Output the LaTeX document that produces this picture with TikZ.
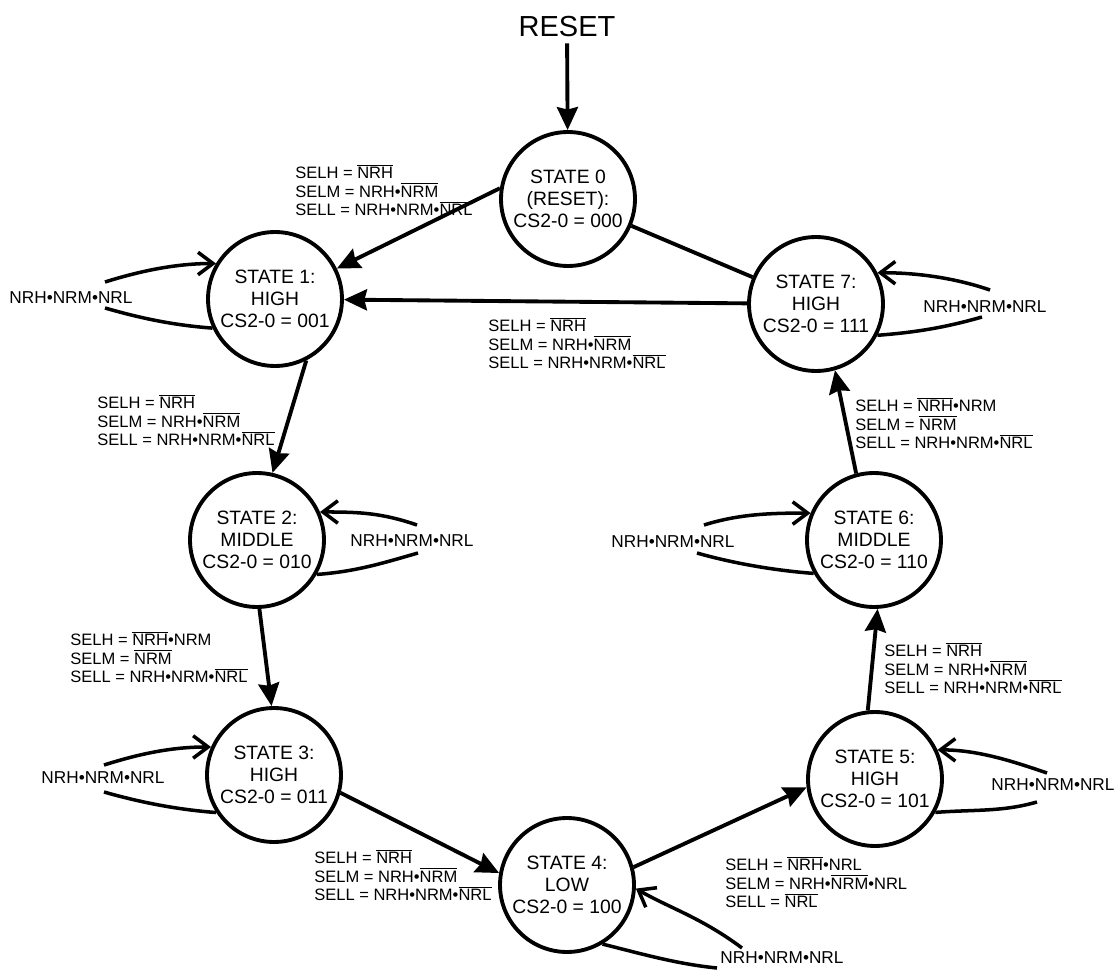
\documentclass[tikz,border=0pt]{standalone}
\usepackage{fontspec}
\setmainfont{Liberation Sans}
\usepackage{tikz}
\usetikzlibrary{arrows.meta}
\newcommand{\statefont}{\fontsize{11}{12.4}\selectfont}
\newcommand{\eqnfont}{\fontsize{9.4}{10.6}\selectfont}
\newcommand{\condfont}{\fontsize{9.8}{11}\selectfont}
\newcommand{\nbar}[1]{$\overline{\hbox{#1}}$}
\newcommand{\anddot}{\textbullet}
\tikzset{
  statebox/.style={circle, draw, line width=2.2pt, minimum size=2.68cm,
    inner sep=0pt, align=center, font=\statefont},
  flow/.style={-{Stealth[length=0.46cm, width=0.42cm, inset=0.05cm]}, line width=2.2pt},
  link/.style={line width=2.2pt},
  loopflow/.style={-{Straight Barb[length=0.3cm, width=0.45cm]}, line width=2pt},
  loopline/.style={line width=2pt},
  eqn/.style={align=left, inner sep=0pt, anchor=west, font=\eqnfont},
  cond/.style={inner sep=0pt, font=\condfont},
}

\begin{document}
\begin{tikzpicture}[x=0.02cm, y=-0.02cm]
  \useasboundingbox (0,0) rectangle (1117,970);

  % states
  \node[font=\fontsize{16.5}{18}\selectfont] (reset) at (567,27) {RESET};
  \node[statebox] (s0) at (568,199) {STATE 0\\(RESET):\\CS2-0 = 000};
  \node[statebox] (s1) at (275,299) {STATE 1:\\HIGH\\CS2-0 = 001};
  \node[statebox] (s2) at (257,540) {STATE 2:\\MIDDLE\\CS2-0 = 010};
  \node[statebox] (s3) at (274,775) {STATE 3:\\HIGH\\CS2-0 = 011};
  \node[statebox] (s4) at (567,885) {STATE 4:\\LOW\\CS2-0 = 100};
  \node[statebox] (s5) at (875,779) {STATE 5:\\HIGH\\CS2-0 = 101};
  \node[statebox] (s6) at (874,540) {STATE 6:\\MIDDLE\\CS2-0 = 110};
  \node[statebox] (s7) at (816,304) {STATE 7:\\HIGH\\CS2-0 = 111};

  % transitions
  \draw[flow] (reset) -- (s0);
  \draw[flow] (s0.171) -- (s1);
  \draw[link] (s0) -- (s7);
  \draw[flow] (s7) -- (s1);
  \draw[flow] (s1.-63) -- (s2.77);
  \draw[flow] (s2.-88) -- (s3.92);
  \draw[flow] (s3.-15) -- (s4.170);
  \draw[flow] (s4.15) -- (s5.187);
  \draw[flow] (s5.96) -- (s6.-87);
  \draw[flow] (s6.105) -- (s7.-74);

  \node[eqn] (e01) at (295,190) {SELH = \nbar{NRH}\\SELM = NRH\anddot\nbar{NRM}\\SELL = NRH\anddot NRM\anddot\nbar{NRL}};
  \node[eqn] (e71) at (488,343) {SELH = \nbar{NRH}\\SELM = NRH\anddot\nbar{NRM}\\SELL = NRH\anddot NRM\anddot\nbar{NRL}};
  \node[eqn] (e12) at (97,420) {SELH = \nbar{NRH}\\SELM = NRH\anddot\nbar{NRM}\\SELL = NRH\anddot NRM\anddot\nbar{NRL}};
  \node[eqn] (e23) at (70,657) {SELH = \nbar{NRH}\anddot NRM\\SELM = \nbar{NRM}\\SELL = NRH\anddot NRM\anddot\nbar{NRL}};
  \node[eqn] (e34) at (314,875) {SELH = \nbar{NRH}\\SELM = NRH\anddot\nbar{NRM}\\SELL = NRH\anddot NRM\anddot\nbar{NRL}};
  \node[eqn] (e45) at (725,882) {SELH = \nbar{NRH}\anddot NRL\\SELM = NRH\anddot\nbar{NRM}\anddot NRL\\SELL = \nbar{NRL}};
  \node[eqn] (e56) at (884,668) {SELH = \nbar{NRH}\\SELM = NRH\anddot\nbar{NRM}\\SELL = NRH\anddot NRM\anddot\nbar{NRL}};
  \node[eqn] (e67) at (855,423) {SELH = \nbar{NRH}\anddot NRM\\SELM = \nbar{NRM}\\SELL = NRH\anddot NRM\anddot\nbar{NRL}};

  % self loops
  \node[cond] (c1) at (71,298) {NRH\anddot NRM\anddot NRL};
  \node[cond] (c2) at (412,541) {NRH\anddot NRM\anddot NRL};
  \node[cond] (c3) at (103,778) {NRH\anddot NRM\anddot NRL};
  \node[cond] (c4) at (782,958) {NRH\anddot NRM\anddot NRL};
  \node[cond] (c5) at (1053,785) {NRH\anddot NRM\anddot NRL};
  \node[cond] (c6) at (673,542) {NRH\anddot NRM\anddot NRL};
  \node[cond] (c7) at (985,307) {NRH\anddot NRM\anddot NRL};

  \coordinate (c1u) at (105,282); \coordinate (c1d) at (105,308);
  \coordinate (c2u) at (417,525); \coordinate (c2d) at (418,553);
  \coordinate (c3u) at (104,765); \coordinate (c3d) at (104,792);
  \coordinate (c4u) at (742,948); \coordinate (c4d) at (717,968);
  \coordinate (c5u) at (1047,773); \coordinate (c5d) at (1037,802);
  \coordinate (c6u) at (704,525); \coordinate (c6d) at (697,553);
  \coordinate (c7u) at (990,290); \coordinate (c7d) at (982,317);

  \draw[loopflow] (c1u) .. controls +(35,-11) and +(-40,0) .. (s1.149);
  \draw[loopline] (s1.205) .. controls +(-40,-3) and +(35,10) .. (c1d);
  \draw[loopflow] (c2u) .. controls +(-35,-12) and +(40,0) .. (s2.24);
  \draw[loopline] (s2.-30) .. controls +(40,-3) and +(-35,10) .. (c2d);
  \draw[loopflow] (c3u) .. controls +(35,-11) and +(-40,0) .. (s3.156);
  \draw[loopline] (s3.213) .. controls +(-40,-3) and +(35,10) .. (c3d);
  \draw[loopflow] (c4u) .. controls +(-40,-30) and +(35,20) .. (s4.-3);
  \draw[loopline] (s4.-59) .. controls +(40,10) and +(-40,-4) .. (c4d);
  \draw[loopflow] (c5u) .. controls +(-35,-12) and +(40,0) .. (s5.25);
  \draw[loopline] (s5.-29) .. controls +(40,-3) and +(-35,10) .. (c5d);
  \draw[loopflow] (c6u) .. controls +(35,-11) and +(-40,0) .. (s6.157);
  \draw[loopline] (s6.209) .. controls +(-40,-3) and +(35,10) .. (c6d);
  \draw[loopflow] (c7u) .. controls +(-35,-12) and +(40,0) .. (s7.27);
  \draw[loopline] (s7.-27) .. controls +(40,-3) and +(-35,10) .. (c7d);
\end{tikzpicture}
\end{document}
